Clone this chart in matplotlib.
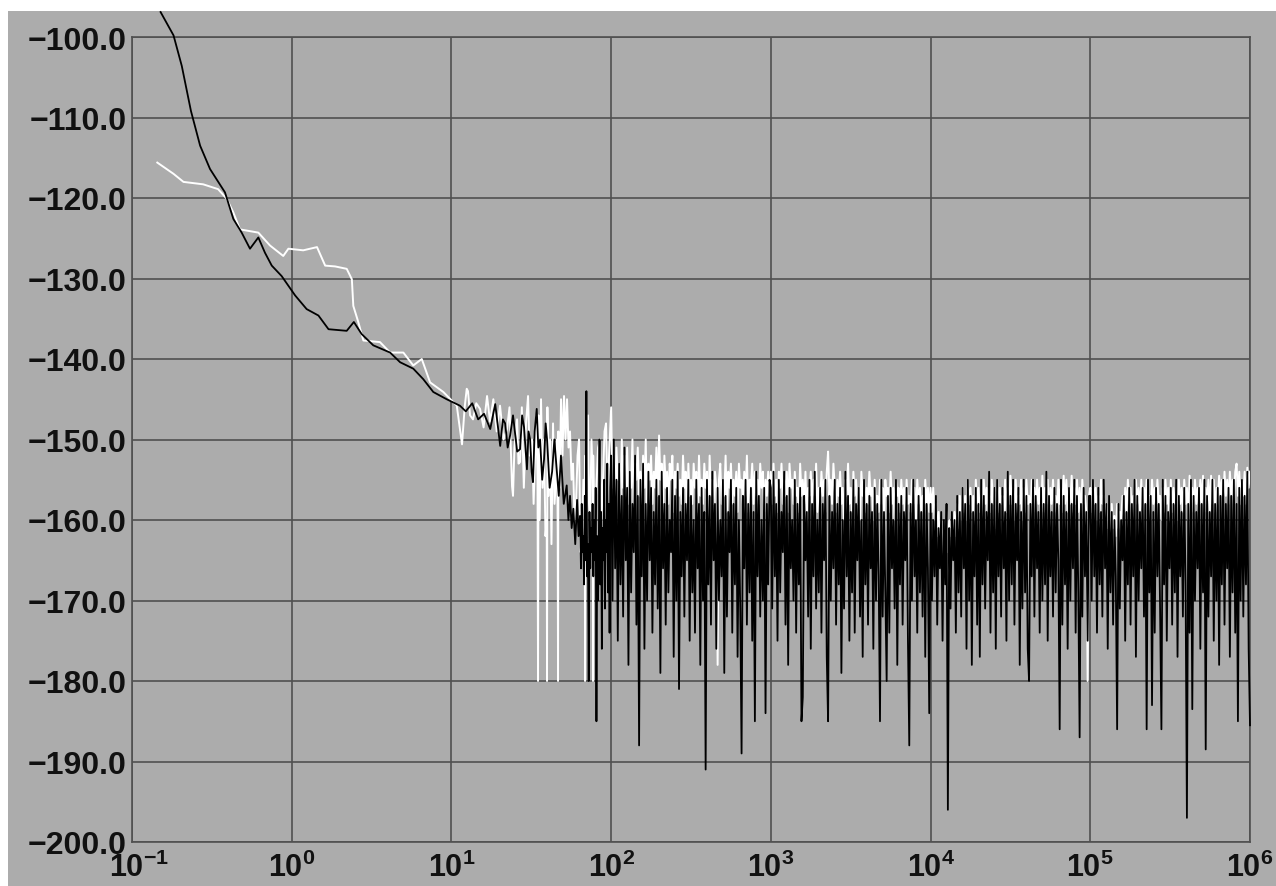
import numpy as np
import matplotlib.pyplot as plt
from matplotlib.patches import Rectangle
from matplotlib.ticker import NullLocator, FuncFormatter

plt.rcParams['font.family'] = ['Liberation Sans', 'DejaVu Sans']
plt.rcParams['mathtext.fontset'] = 'custom'
plt.rcParams['mathtext.rm'] = 'Liberation Sans:bold'
plt.rcParams['mathtext.it'] = 'Liberation Sans:italic'
plt.rcParams['mathtext.bf'] = 'Liberation Sans:bold'

# ---- black trace: smooth low-frequency part (Hz, dB)
black_smooth_f = [0.151, 0.182, 0.205, 0.234, 0.267, 0.308, 0.382, 0.431, 0.486, 0.548,
                  0.618, 0.68, 0.75, 0.865, 1.05, 1.24, 1.47, 1.70, 2.21, 2.45,
                  2.74, 3.24, 4.13, 4.77, 5.77, 6.66, 7.7, 9.34]
black_smooth_db = [-96.9, -99.8, -103.6, -109.2, -113.5, -116.4, -119.3, -122.6, -124.3, -126.3,
                   -124.9, -126.8, -128.4, -129.7, -132.1, -133.8, -134.6, -136.3, -136.5, -135.4,
                   -136.9, -138.3, -139.2, -140.4, -141.2, -142.5, -144.1, -145.0]

# ---- black trace: 11 - 64 Hz
black_mid_f = [11.3, 12.3, 13.5, 14.7, 16.0, 17.5, 18.8, 20.2, 21.0, 21.7,
               22.5, 23.3, 24.3, 25.8, 26.9, 27.7, 28.5, 29.7, 30.4, 31.1,
               31.8, 32.4, 33.2, 34.2, 35.0, 35.9, 37.0, 38.0, 38.9, 39.7,
               41.2, 42.7, 44.1, 45.6, 47.0, 48.5, 50.5, 52.7, 54.0, 55.3,
               56.6, 58.0, 59.6, 61.2, 62.5, 63.8]
black_mid_db = [-145.8, -146.5, -145.5, -147.5, -146.8, -148.7, -145.6, -150.8, -147.5, -148.0,
                -151.0, -149.5, -147.0, -151.5, -151.2, -147.0, -148.5, -153.7, -149.0, -150.0,
                -154.0, -155.3, -149.0, -146.2, -151.0, -150.0, -155.0, -152.5, -148.0, -150.0,
                -156.0, -154.0, -150.0, -153.7, -157.0, -152.0, -158.0, -155.7, -160.0, -157.0,
                -161.0, -158.6, -163.0, -157.5, -162.0, -159.5]

# ---- black trace: noisy bands (dB, sampled evenly in log f across each band)
black_64 = [-160, -166, -158, -164, -162, -168, -157, -165, -144, -167,
            -163, -180, -159, -166, -161, -164, -158, -167, -160, -165,
            -156, -185, -162, -170, -164, -150, -168, -159, -176, -161,
            -165, -155, -171, -160, -164, -153, -169, -158, -174, -156]
black_e2 = [-152, -170, -150, -166, -155, -175, -153, -168, -157, -172,
            -151, -165, -156, -178, -154, -169, -158, -164, -152, -173,
            -157, -188, -155, -167, -153, -176, -158, -170, -154, -165,
            -156, -174, -159, -168, -155, -171, -157, -179, -154, -166,
            -158, -173, -156, -169, -160, -164, -155, -177, -157, -170,
            -154, -181, -159, -167, -156, -172, -158, -165, -155, -175,
            -157, -169, -160, -174, -155, -166, -158, -178, -156, -170,
            -159, -191, -155, -168, -157, -173, -154, -165, -158, -176,
            -156, -170, -160, -167, -155, -179, -157, -172, -159, -164,
            -155, -174, -158, -168, -156, -177, -160, -171, -189, -157,
            -166, -155, -173, -158, -169, -156, -175, -159, -185, -154,
            -167, -157, -172, -160, -170, -156, -184, -158, -168, -155]
black_e3 = [-156, -171, -154, -167, -158, -175, -155, -169, -159, -164,
            -154, -173, -157, -178, -156, -166, -160, -170, -155, -174,
            -158, -168, -156, -185, -182, -157, -165, -159, -172, -155,
            -176, -158, -167, -154, -171, -160, -169, -156, -174, -158,
            -165, -155, -177, -185, -157, -170, -159, -166, -155, -173,
            -158, -168, -156, -179, -160, -171, -154, -167, -157, -175,
            -159, -169, -155, -174, -158, -165, -156, -172, -160, -177,
            -155, -168, -158, -173, -157, -166, -159, -176, -156, -170,
            -158, -167, -185, -155, -172, -159, -169, -180, -157, -174,
            -156, -166, -160, -171, -155, -178, -158, -168, -157, -173,
            -159, -165, -156, -175, -188, -158, -170, -155, -167, -160,
            -174, -157, -169, -159, -172, -156, -177, -158, -166, -184]
black_e4 = [-158, -170, -160, -167, -157, -173, -161, -166, -159, -175,
            -160, -168, -158, -196, -161, -171, -159, -165, -160, -174,
            -157, -169, -159, -172, -156, -166, -158, -176, -155, -170,
            -157, -178, -159, -167, -156, -173, -158, -177, -155, -168,
            -157, -171, -159, -165, -154, -174, -158, -169, -156, -176,
            -155, -167, -158, -172, -156, -166, -159, -175, -154, -170,
            -157, -168, -155, -173, -158, -165, -156, -178, -159, -171,
            -155, -169, -157, -176, -180, -158, -167, -155, -172, -157,
            -166, -159, -174, -156, -170, -158, -168, -154, -175, -157,
            -167, -159, -172, -156, -169, -158, -165, -186, -155, -173,
            -157, -168, -159, -176, -156, -170, -158, -166, -155, -174,
            -157, -169, -187, -158, -172, -156, -167, -159, -175, -157]
black_e5 = [-157, -170, -155, -167, -158, -174, -156, -168, -159, -172,
            -155, -166, -158, -176, -157, -169, -159, -173, -160, -167,
            -186, -158, -171, -160, -165, -157, -175, -159, -168, -156,
            -173, -158, -167, -155, -177, -157, -170, -159, -166, -156,
            -172, -158, -186, -155, -169, -157, -183, -159, -174, -156,
            -167, -158, -171, -186, -155, -168, -157, -175, -159, -166,
            -156, -173, -158, -169, -155, -177, -157, -167, -159, -172,
            -156, -168, -197, -158, -174, -155, -183.5, -157, -170, -159,
            -166, -156, -176, -158, -169, -155, -188.5, -157, -172, -159,
            -167, -155, -175, -158, -170, -156, -178, -157, -168, -155,
            -173, -158, -166, -156, -177, -157, -169, -155, -174, -158,
            -185, -156, -170, -155, -172, -157, -168, -154, -176, -185.5]

# ---- white trace: smooth low-frequency part (Hz, dB)
white_smooth_f = [0.144, 0.182, 0.21, 0.279, 0.346, 0.392, 0.431, 0.474, 0.618, 0.731,
                  0.885, 0.953, 1.18, 1.44, 1.62, 1.87, 2.21, 2.38, 2.43, 2.61,
                  2.81, 3.57, 4.13, 5.0, 5.77, 6.52, 7.35, 8.9, 10.8]
white_smooth_db = [-115.6, -117.0, -118.0, -118.3, -118.9, -120.1, -121.8, -123.9, -124.3, -125.9,
                   -127.2, -126.3, -126.5, -126.1, -128.4, -128.5, -128.8, -130.1, -133.4, -135.4,
                   -137.7, -137.9, -139.2, -139.2, -140.8, -140.0, -142.9, -144.1, -145.8]

# ---- white trace: 11 - 100 Hz
white_mid_f = [11.65, 12.1, 12.47, 12.70, 13.08, 13.65, 14.3, 15.11, 15.9, 16.71,
               17.45, 18.3, 19.2, 20.15, 21.2, 22.29, 23.1, 23.96, 24.30, 24.8,
               25.75, 26.3, 26.89, 27.6, 28.4, 29.3, 30.18, 30.9, 31.97, 32.7,
               33.38, 34.0, 34.6, 34.85, 35.1, 35.7, 36.39, 37.2, 38.0, 38.8,
               39.5, 39.68, 39.9, 40.6, 41.44, 42.3, 43.27, 44.2, 45.18, 45.9,
               46.3, 46.5, 46.7, 47.6, 48.56, 49.6, 50.7, 51.8, 52.94, 54.1,
               55.27, 56.5, 57.71, 59.0, 60.27, 61.6, 62.95, 64.3, 65.73, 67.0,
               68.4, 68.63, 68.9, 70.2, 71.67, 72.7, 73.8, 75.3, 76.8, 77.0,
               77.2, 78.8, 80.4, 82.8, 85.2, 87.0, 88.9, 90.9, 92.9, 95.0,
               97.0]
white_mid_db = [-150.6, -146.0, -143.7, -144.0, -147.0, -147.5, -145.5, -146.2, -148.5, -144.6,
                -147.8, -145.0, -149.0, -145.8, -150.0, -148.7, -146.0, -155.8, -157.0, -151.0,
                -147.5, -153.0, -152.8, -146.0, -156.0, -148.0, -144.6, -152.0, -150.0, -158.0,
                -152.0, -147.0, -155.0, -180.0, -147.0, -160.0, -145.0, -156.0, -150.0, -162.0,
                -160.0, -180.0, -146.0, -157.0, -150.0, -163.0, -148.0, -158.0, -155.0, -150.0,
                -162.0, -180.0, -149.0, -156.0, -145.0, -152.0, -144.6, -150.0, -145.0, -151.0,
                -149.0, -155.0, -153.0, -160.0, -158.0, -152.0, -150.0, -164.0, -162.0, -155.0,
                -158.0, -180.0, -152.0, -162.0, -147.0, -158.0, -160.0, -150.0, -155.0, -180.0,
                -152.0, -163.0, -157.0, -151.0, -150.0, -160.0, -155.0, -149.0, -148.0, -158.0,
                -152.0]

# ---- white trace: noisy bands
white_e2 = [-146, -156, -152, -158, -151, -155, -153, -159, -150, -156,
            -152, -157, -151, -158, -154, -156, -150, -159, -153, -155,
            -151, -157, -154, -158, -152, -156, -150, -160, -153, -155,
            -152, -158, -154, -156, -151, -157, -149.5, -155, -153, -159,
            -152, -156, -154, -158, -153, -155, -152, -159, -154, -156,
            -153, -157, -155, -158, -152, -156, -154, -160, -153, -157,
            -155, -158, -153, -156, -154, -159, -152, -157, -155, -158,
            -153, -156, -154, -160, -152, -157, -155, -158, -154, -156,
            -178, -155, -153, -158, -155, -157, -152, -159, -154, -156,
            -153, -158, -155, -157, -154, -159, -153, -156, -155, -158,
            -154, -157, -152, -159, -155, -156, -153, -158, -154, -157,
            -155, -158, -153, -156, -154, -159, -155, -157, -154, -158]
white_e3 = [-154, -158, -153, -157, -155, -159, -154, -156, -153, -158,
            -155, -157, -154, -159, -153, -156, -155, -158, -154, -157,
            -156, -159, -153, -157, -155, -158, -154, -160, -156, -157,
            -154, -158, -155, -157, -153, -159, -156, -158, -154, -157,
            -155, -159, -154, -151.5, -157, -155, -158, -153, -156, -159,
            -155, -157, -154, -158, -156, -160, -155, -157, -153, -158,
            -156, -159, -154, -157, -155, -158, -156, -160, -154, -157,
            -155, -159, -156, -158, -154, -157, -156, -160, -155, -158,
            -157, -159, -155, -158, -156, -161, -155, -157, -156, -159,
            -154, -158, -156, -160, -155, -157, -156, -159, -155, -158,
            -156, -160, -155, -158, -157, -159, -155, -158, -156, -160,
            -155, -158, -156, -159, -157, -160, -155, -158, -156, -159]
white_e4 = [-156, -159, -156, -160, -158, -162, -159, -163, -160, -164,
            -161, -163, -159, -164, -160, -162, -161, -163, -159, -162,
            -158, -161, -157, -160, -156, -159, -157, -160, -155, -158,
            -156, -159, -157, -160, -155, -158, -156, -159, -157, -160,
            -155, -158, -156, -160, -157, -159, -155, -158, -156, -161,
            -155, -159, -156, -158, -157, -160, -155, -159, -156, -158,
            -154.5, -158, -156, -160, -155, -159, -157, -158, -155, -160,
            -156, -159, -155, -158, -157, -160, -155, -158, -156, -159,
            -155, -158, -156, -160, -154.5, -159, -156, -158, -155, -160,
            -156, -158, -155, -159, -157, -160, -155, -158, -156, -159,
            -154.5, -158, -155, -159, -156, -158, -154.5, -159, -156, -158,
            -155, -159, -156, -160, -155, -158, -157, -159, -180, -157]
white_e5 = [-156, -159, -155, -158, -156, -160, -157, -159, -155, -158,
            -157, -160, -158, -161, -159, -162, -158, -161, -159.5, -162,
            -158, -161, -159, -160, -157, -160, -156, -159, -155, -158,
            -156, -159, -157, -160, -155, -158, -156, -159, -155, -160,
            -156, -158, -155, -159, -157, -160, -155, -158, -156, -159,
            -155, -158, -157, -160, -156, -159, -155, -158, -156, -160,
            -155, -159, -156, -158, -157, -160, -155, -158, -156, -159,
            -155, -158, -156, -160, -154.5, -158, -156, -159, -155, -158,
            -156, -159, -155, -158, -154.5, -159, -156, -158, -155, -159,
            -154.5, -158, -155, -159, -156, -158, -154.5, -157, -155, -158,
            -154, -157, -155, -158, -154, -157, -155, -158, -154, -153,
            -157, -154, -158, -155, -157, -154, -158, -153.5, -156, -154]

x_ticks = [0.1, 1, 10, 100, 1e3, 1e4, 1e5, 1e6]
x_labels = [r'$\mathregular{10^{-1}}$', r'$\mathregular{10^{0}}$', r'$\mathregular{10^{1}}$',
            r'$\mathregular{10^{2}}$', r'$\mathregular{10^{3}}$', r'$\mathregular{10^{4}}$',
            r'$\mathregular{10^{5}}$', r'$\mathregular{10^{6}}$']
y_ticks = [-200, -190, -180, -170, -160, -150, -140, -130, -120, -110, -100]


def band(lo, hi, vals, last=False):
    return np.logspace(np.log10(lo), np.log10(hi), len(vals), endpoint=last)


black_f = np.concatenate([black_smooth_f, black_mid_f,
                          band(64, 100, black_64), band(1e2, 1e3, black_e2),
                          band(1e3, 1e4, black_e3), band(1e4, 1e5, black_e4),
                          band(1e5, 1e6, black_e5, last=True)])
black_db = np.concatenate([black_smooth_db, black_mid_db, black_64, black_e2,
                           black_e3, black_e4, black_e5])
white_f = np.concatenate([white_smooth_f, white_mid_f,
                          band(1e2, 1e3, white_e2), band(1e3, 1e4, white_e3),
                          band(1e4, 1e5, white_e4), band(1e5, 1e6, white_e5, last=True)])
white_db = np.concatenate([white_smooth_db, white_mid_db, white_e2, white_e3,
                           white_e4, white_e5])

bg = '#acacac'
gridc = '#505050'

fig = plt.figure(figsize=(12.76, 8.87), dpi=100)
fig.patch.set_facecolor('white')
fig.add_artist(Rectangle((8 / 1276, 0), 1, 875 / 887, transform=fig.transFigure,
                         facecolor=bg, edgecolor='none', zorder=-10))
ax = fig.add_axes([132 / 1276, 44 / 887, 1118 / 1276, 805 / 887])
ax.set_facecolor('none')
ax.set_xscale('log')
ax.set_xlim(0.1, 1e6)
ax.set_ylim(-200, -100)

ax.plot(white_f, white_db, color='white', lw=1.4, zorder=3)
ax.plot(black_f, black_db, color='black', lw=1.3, zorder=4, clip_on=False)

# x labels placed by hand so the baseline sits near the bottom edge
ax.set_xticks(x_ticks)
ax.set_xticklabels([])
ax.xaxis.set_minor_locator(NullLocator())
for i, (xv, lab) in enumerate(zip(x_ticks, x_labels)):
    ax.text(xv * (1.11 if i == 0 else 1.0), -0.042, lab, transform=ax.get_xaxis_transform(),
            ha='center', va='baseline', fontsize=22, fontweight='bold', color='#111111',
            clip_on=False)

ax.set_yticks(y_ticks)
ax.yaxis.set_major_formatter(FuncFormatter(lambda v, p: f'{v:.1f}'.replace('-', '\u2212')))
ax.tick_params(axis='y', length=0, pad=4, labelsize=23, colors='#111111')
ax.tick_params(axis='x', length=0)
for lab in ax.get_yticklabels():
    lab.set_fontweight('bold')
ax.grid(True, color=gridc, lw=1.2, zorder=1)
for s in ax.spines.values():
    s.set_color(gridc)
    s.set_linewidth(1.2)

fig.savefig('out.png', dpi=100)
